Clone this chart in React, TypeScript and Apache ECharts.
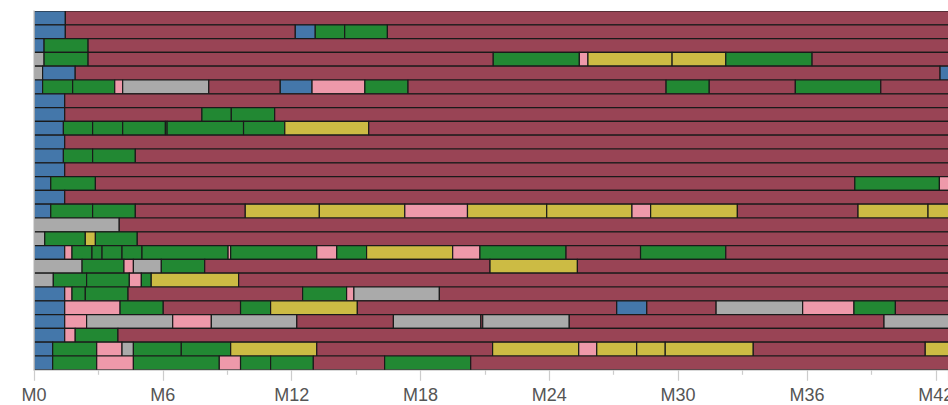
import React, { useEffect, useRef } from "react";
import * as echarts from "echarts";

// State codes -> colours
const STATE_CODES = ["b", "m", "g", "y", "p", "x"];
const STATE_NAMES = ["Blue", "Maroon", "Green", "Yellow", "Pink", "Grey"];
const STATE_COLORS = ["#4477AA", "#994455", "#228833", "#CCBB44", "#EE99AA", "#AAAAAA"];

// One entry per row (top to bottom): sequence of states, and the months where the state changes
const rowIds = Array.from({ length: 26 }, (_, i) => `R${i + 1}`);

const rowStates: string[] = [
  "bm",
  "bmbggm",
  "bgm",
  "xgmgpyygm",
  "xbmb",
  "bggpxmbpgmgmgm",
  "bm",
  "bmggm",
  "bggggggym",
  "bm",
  "bggm",
  "bm",
  "bgmgp",
  "bm",
  "bggmyypyypymyy",
  "xm",
  "xgygm",
  "bpgggggpgpgypgmgm",
  "xgpxgmym",
  "xggpgym",
  "bpggmgpxm",
  "bpgmgymbmxpgm",
  "bpxpxmxmxmx",
  "bpgm",
  "bgpxggymypyyymy",
  "bgpgpggmgm",
];

const rowCuts: number[][] = [
  [1.46],
  [1.46, 12.17, 13.1, 14.47, 16.46],
  [0.47, 2.52],
  [0.47, 2.52, 21.39, 25.4, 25.8, 29.72, 32.22, 36.24],
  [0.4, 1.92, 42.2],
  [0.4, 1.8, 3.76, 4.13, 8.14, 11.47, 12.95, 15.41, 17.42, 29.44, 31.45, 35.46, 39.44],
  [1.43],
  [1.43, 7.82, 9.19, 11.21],
  [1.37, 2.73, 4.13, 6.12, 6.2, 9.76, 11.68, 15.59],
  [1.43],
  [1.37, 2.73, 4.72],
  [1.43],
  [0.78, 2.86, 38.23, 42.17],
  [1.43],
  [0.78, 2.73, 4.72, 9.84, 13.29, 17.27, 20.19, 23.88, 27.85, 28.72, 32.76, 38.38, 41.64],
  [3.97],
  [0.5, 2.39, 2.86, 4.81],
  [1.43, 1.77, 2.7, 3.17, 4.1, 5.03, 9.04, 9.16, 13.17, 14.1, 15.49, 19.5, 20.77, 24.78, 28.25, 32.22],
  [2.24, 4.19, 4.63, 5.93, 7.95, 21.24, 25.31],
  [0.9, 2.45, 4.44, 5.0, 5.46, 9.53],
  [1.43, 1.77, 2.39, 4.38, 12.51, 14.56, 14.9, 18.88],
  [1.43, 4.01, 6.02, 9.62, 11.02, 15.06, 27.14, 28.54, 31.77, 35.8, 38.19, 40.12],
  [1.43, 2.45, 6.46, 8.26, 12.24, 16.74, 20.81, 20.9, 24.93, 39.59],
  [1.43, 1.92, 3.91],
  [0.87, 2.92, 4.1, 4.63, 6.86, 9.16, 13.17, 21.36, 25.37, 26.21, 28.07, 29.4, 33.5, 41.51],
  [0.87, 2.92, 4.63, 8.63, 9.62, 11.02, 13.01, 16.33, 20.34],
];

const TIMELINE_START = 0;
const TIMELINE_END = 44; // observation continues past the visible window
const X_VISIBLE_MAX = 42.57;
const TICK_STEP = 6;

function buildSegments() {
  const out: number[][] = [];
  rowStates.forEach((states, r) => {
    const bounds = [TIMELINE_START, ...rowCuts[r], TIMELINE_END];
    for (let i = 0; i < states.length; i++) {
      out.push([r, bounds[i], bounds[i + 1], STATE_CODES.indexOf(states[i])]);
    }
  });
  return out;
}

export default function App() {
  const ref = useRef<HTMLDivElement>(null);
  useEffect(() => {
    if (!ref.current) return;
    const chart = echarts.init(ref.current, null, { renderer: "svg" });
    const segments = buildSegments();
    chart.setOption({
      animation: false,
      grid: { left: 34, right: 0, top: 11, bottom: 35.2, containLabel: false, outerBoundsMode: "none" },
      xAxis: {
        type: "value",
        min: 0,
        max: X_VISIBLE_MAX,
        interval: TICK_STEP,
        splitLine: { show: false },
        axisLine: { show: true, lineStyle: { color: "#cccccc", width: 1.5 } },
        axisTick: { show: true, length: 11, lineStyle: { color: "#cccccc", width: 1.2 } },
        minorTick: { show: true, splitNumber: 2, length: 5, lineStyle: { color: "#cccccc", width: 1.2 } },
        axisLabel: {
          margin: 16,
          fontSize: 18,
          color: "#555555",
          hideOverlap: false,
          fontFamily: "Liberation Sans, Arial, sans-serif",
          formatter: (v: number) => (v % TICK_STEP === 0 ? "M" + v : ""),
        },
      },
      yAxis: {
        type: "category",
        data: rowIds,
        inverse: true,
        z: 5,
        axisLabel: { show: false },
        axisTick: { show: false },
        splitLine: { show: false },
        axisLine: { show: true, lineStyle: { color: "#cccccc", width: 1.5 } },
      },
      series: [
        {
          type: "custom",
          name: "states",
          clip: true,
          encode: { x: [1, 2], y: 0 },
          data: segments,
          renderItem: (params: any, api: any) => {
            const row = api.value(0);
            const p0 = api.coord([api.value(1), row]);
            const p1 = api.coord([api.value(2), row]);
            const h = api.size([0, 1])[1];
            const cs = params.coordSys;
            const shape = echarts.graphic.clipRectByRect(
              { x: p0[0], y: p0[1] - h / 2, width: p1[0] - p0[0], height: h },
              { x: cs.x, y: cs.y, width: cs.width + 20, height: cs.height }
            );
            if (!shape) return null;
            return {
              type: "rect",
              shape,
              style: {
                fill: STATE_COLORS[api.value(3)],
                stroke: "#1a1a1a",
                lineWidth: 1.2,
              },
            };
          },
        },
      ],
    });
    return () => chart.dispose();
  }, []);
  return (
    <div
      ref={ref}
      style={{ position: "absolute", left: 0, top: 0, width: 948, height: 405 }}
      data-states={STATE_NAMES.join(",")}
    />
  );
}
